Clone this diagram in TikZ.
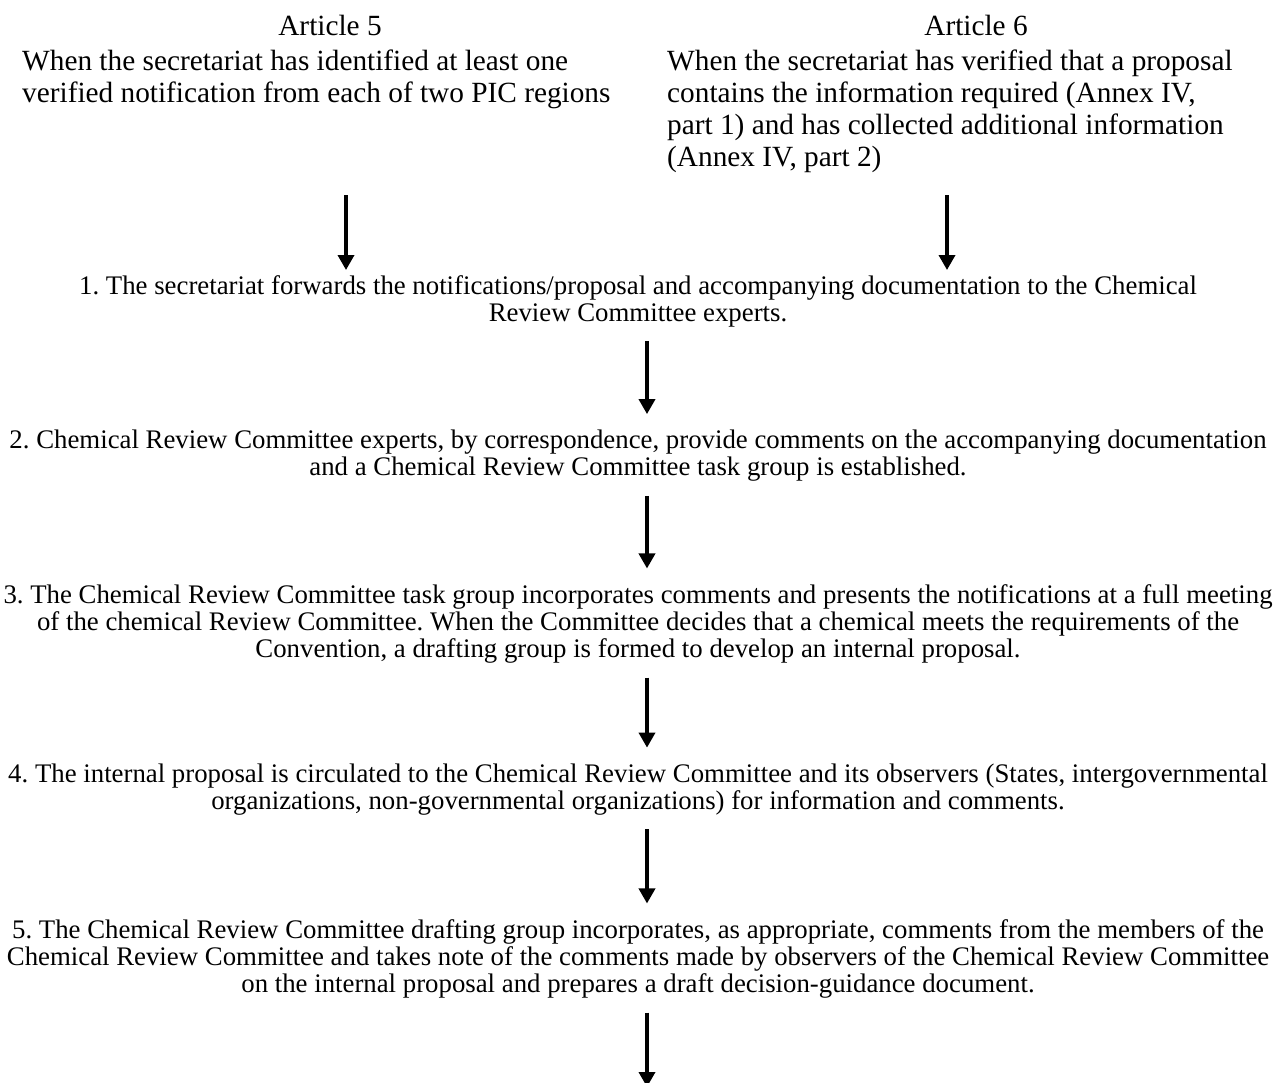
\documentclass[tikz,border=0pt]{standalone}
\usepackage{fontspec}
\setmainfont{Liberation Serif}
\usetikzlibrary{arrows.meta, positioning}
\frenchspacing
\tikzstyle{heading} = [
    inner sep=0pt,
    anchor=base,
    font=\fontsize{29.3}{32}\selectfont
]
\tikzstyle{condition} = [
    inner sep=0pt,
    anchor=north west,
    align=left,
    font=\fontsize{29.3}{32}\selectfont
]
\tikzstyle{stepbox} = [
    inner sep=0pt,
    align=center,
    font=\fontsize{26.8}{27}\selectfont
]
\tikzstyle{arrow} = [line width=3.5pt, -{Triangle[width=16pt,length=15pt]}]

\begin{document}
\begin{tikzpicture}[x=1pt, y=-1pt]

\useasboundingbox (0,0) rectangle (1277,1082);
\clip (0,0) rectangle (1277,1082);

\node (art5) [heading] at (330,35) {Article 5};

\node (cond5) [condition] at (22,50)
{When the secretariat has identified at least one\\
verified notification from each of two PIC regions};

\node (art6) [heading] at (976,35) {Article 6};

\node (cond6) [condition] at (667,50)
{When the secretariat has verified that a proposal\\
contains the information required (Annex IV,\\
part 1) and has collected additional information\\
(Annex IV, part 2)};

\node (step1) [stepbox] at (638,301)
{1. The secretariat forwards the notifications/proposal and accompanying documentation to the Chemical\\
Review Committee experts.};

\node (step2) [stepbox] at (638,456)
{2. Chemical Review Committee experts, by correspondence, provide comments on the accompanying documentation\\
and a Chemical Review Committee task group is established.};

\node (step3) [stepbox] at (638,624)
{3. The Chemical Review Committee task group incorporates comments and presents the notifications at a full meeting\\
of the chemical Review Committee. When the Committee decides that a chemical meets the requirements of the\\
Convention, a drafting group is formed to develop an internal proposal.};

\node (step4) [stepbox] at (638,789.5)
{4. The internal proposal is circulated to the Chemical Review Committee and its observers (States, intergovernmental\\
organizations, non-governmental organizations) for information and comments.};

\node (step5) [stepbox] at (638,959)
{5. The Chemical Review Committee drafting group incorporates, as appropriate, comments from the members of the\\
Chemical Review Committee and takes note of the comments made by observers of the Chemical Review Committee\\
on the internal proposal and prepares a draft decision-guidance document.};

\coordinate (from5) at (346,195);
\coordinate (from6) at (947,195);
\coordinate (next) at (647,1087);

\draw [arrow, shorten >=5pt] (from5) -- (from5 |- step1.north);
\draw [arrow, shorten >=5pt] (from6) -- (from6 |- step1.north);
\draw [arrow, shorten <=14pt, shorten >=16pt] ([xshift=9pt]step1.south) -- ([xshift=9pt]step2.north);
\draw [arrow, shorten <=14pt, shorten >=16pt] ([xshift=9pt]step2.south) -- ([xshift=9pt]step3.north);
\draw [arrow, shorten <=14pt, shorten >=16pt] ([xshift=9pt]step3.south) -- ([xshift=9pt]step4.north);
\draw [arrow, shorten <=14pt, shorten >=16pt] ([xshift=9pt]step4.south) -- ([xshift=9pt]step5.north);
\draw [arrow, shorten <=14pt] ([xshift=9pt]step5.south) -- (next);

\end{tikzpicture}
\end{document}
